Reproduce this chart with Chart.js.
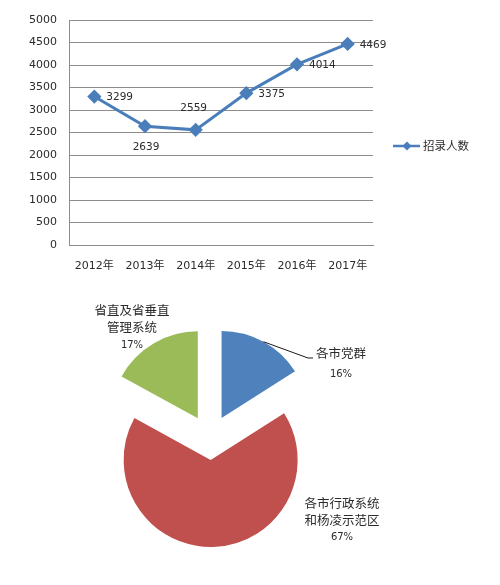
<!DOCTYPE html>
<html>
<head>
<meta charset="utf-8">
<script src="https://cdn.jsdelivr.net/npm/chart.js@4.4.1/dist/chart.umd.min.js"></script>
<style>
  html, body { margin: 0; padding: 0; background: #fff; }
  #wrap { position: relative; width: 500px; height: 585px; overflow: hidden; }
  #lineBox { position: absolute; left: 0; top: 0; width: 500px; height: 290px; }
  #pieBox { position: absolute; left: 0; top: 290px; width: 500px; height: 295px; }
</style>
</head>
<body>
<div id="wrap">
  <div id="lineBox"><canvas id="chartLine"></canvas></div>
  <div id="pieBox"><canvas id="chartPie"></canvas></div>
</div>
<script>
// data garis
const years = ['2012年', '2013年', '2014年', '2015年', '2016年', '2017年'];
const recruits = [3299, 2639, 2559, 3375, 4014, 4469];
const seriesName = '招录人数';
const yTicks = [0, 500, 1000, 1500, 2000, 2500, 3000, 3500, 4000, 4500, 5000];

// data pie
const groups = ['各市党群', '各市行政系统和杨凌示范区', '省直及省垂直管理系统'];
const shares = [16, 67, 17];

const NUM_FONT = '"DejaVu Sans", "Noto Sans CJK SC", sans-serif';
const CJK_FONT = '"Noto Sans CJK SC", "DejaVu Sans", sans-serif';
const BLUE = '#4A7EBB';
const INK = '#2b2b2b';

// posisi label angka: kanan / bawah / atas
const labelSide = ['right', 'below', 'above', 'right', 'right', 'right'];

const valueLabels = {
    id: 'valueLabels',
    afterDatasetsDraw(chart) {
        const ctx = chart.ctx;
        const meta = chart.getDatasetMeta(0);
        ctx.save();
        ctx.font = '10.5px ' + NUM_FONT;
        ctx.fillStyle = INK;
        ctx.textBaseline = 'middle';
        meta.data.forEach((pt, i) => {
            const txt = String(chart.data.datasets[0].data[i]);
            if (labelSide[i] === 'right') {
                ctx.textAlign = 'left';
                ctx.fillText(txt, pt.x + 12, pt.y + 1);
            } else if (labelSide[i] === 'below') {
                ctx.textAlign = 'center';
                ctx.fillText(txt, pt.x + 1, pt.y + 21);
            } else {
                ctx.textAlign = 'center';
                ctx.fillText(txt, pt.x - 2, pt.y - 22);
            }
        });
        ctx.restore();
    }
};

// legend manual di kanan
const sideLegend = {
    id: 'sideLegend',
    afterDraw(chart) {
        const ctx = chart.ctx;
        const ds = chart.data.datasets[0];
        const y = 146;
        ctx.save();
        ctx.strokeStyle = ds.borderColor;
        ctx.lineWidth = 2.5;
        ctx.beginPath();
        ctx.moveTo(393, y);
        ctx.lineTo(420, y);
        ctx.stroke();
        ctx.fillStyle = ds.borderColor;
        ctx.beginPath();
        ctx.moveTo(407, y - 4.5);
        ctx.lineTo(411.5, y);
        ctx.lineTo(407, y + 4.5);
        ctx.lineTo(402.5, y);
        ctx.closePath();
        ctx.fill();
        ctx.fillStyle = INK;
        ctx.font = '11.5px ' + CJK_FONT;
        ctx.textAlign = 'left';
        ctx.textBaseline = 'middle';
        ctx.fillText(ds.label, 423, y);
        ctx.restore();
    }
};

new Chart(document.getElementById('chartLine'), {
    type: 'line',
    data: {
        labels: years,
        datasets: [{
            label: seriesName,
            data: recruits,
            borderColor: BLUE,
            backgroundColor: BLUE,
            borderWidth: 3,
            pointStyle: 'rectRot',
            pointRadius: 5,
            pointBackgroundColor: BLUE,
            pointBorderColor: BLUE,
            tension: 0
        }]
    },
    options: {
        responsive: true,
        maintainAspectRatio: false,
        animation: false,
        events: [],
        layout: { padding: { left: 0, top: 20, right: 127, bottom: 0 } },
        plugins: { legend: { display: false }, tooltip: { enabled: false } },
        scales: {
            x: {
                offset: true,
                grid: { display: false, drawTicks: false },
                border: { display: true, color: '#8c8c8c', width: 1 },
                ticks: { padding: 15, color: INK, font: { family: NUM_FONT, size: 11 }, maxRotation: 0 },
                afterFit(axis) { axis.height = 45; }
            },
            y: {
                min: 0,
                max: 5000,
                afterBuildTicks(axis) { axis.ticks = yTicks.map(v => ({ value: v })); },
                grid: { color: '#8c8c8c', lineWidth: 1, drawTicks: false },
                border: { display: true, color: '#8c8c8c', width: 1 },
                ticks: {
                    padding: 12,
                    color: INK,
                    font: { family: NUM_FONT, size: 11 },
                    callback: (v) => String(v)
                },
                afterFit(axis) { axis.width = 69; }
            }
        }
    },
    plugins: [valueLabels, sideLegend]
});

// jarak "explode" tiap irisan (px), urut sama dengan groups
const explodePx = [24, 21, 24];

// gambar ulang tiap arc dengan pergeseran keluar, radius tetap sama
const explodeSlices = {
    id: 'explodeSlices',
    beforeDatasetDraw(chart, args) {
        const ctx = chart.ctx;
        args.meta.data.forEach((arc, i) => {
            const mid = (arc.startAngle + arc.endAngle) / 2;
            ctx.save();
            ctx.translate(Math.cos(mid) * explodePx[i], Math.sin(mid) * explodePx[i]);
            arc.draw(ctx, chart.chartArea);
            ctx.restore();
        });
        return false;
    }
};

// label pie: baris teks + posisi persen (relatif kanvas pie)
const pieLabelLines = [
    { lines: ['各市党群'], x: 341, y: 63, pctDy: 21, leader: true },
    { lines: ['各市行政系统', '和杨凌示范区'], x: 342, y: 213, pctDy: 34 },
    { lines: ['省直及省垂直', '管理系统'], x: 132, y: 20, pctDy: 35 }
];

const pieLabels = {
    id: 'pieLabels',
    afterDatasetsDraw(chart) {
        const ctx = chart.ctx;
        const meta = chart.getDatasetMeta(0);
        const vals = chart.data.datasets[0].data;
        const total = vals.reduce((a, b) => a + b, 0);
        ctx.save();
        ctx.textAlign = 'center';
        ctx.textBaseline = 'middle';
        pieLabelLines.forEach((lab, i) => {
            ctx.fillStyle = INK;
            ctx.font = '12.5px ' + CJK_FONT;
            lab.lines.forEach((t, k) => ctx.fillText(t, lab.x, lab.y + k * 17.5));
            ctx.font = '10px ' + NUM_FONT;
            ctx.fillText(Math.round(vals[i] / total * 100) + '%', lab.x, lab.y + lab.pctDy);
            if (lab.leader) {
                const arc = meta.data[i];
                const mid = (arc.startAngle + arc.endAngle) / 2;
                const r = arc.outerRadius + explodePx[i];
                const sx = arc.x + Math.cos(mid) * r;
                const sy = arc.y + Math.sin(mid) * r;
                ctx.strokeStyle = '#1a1a1a';
                ctx.lineWidth = 1;
                ctx.beginPath();
                ctx.moveTo(sx, sy);
                ctx.lineTo(308, 68);
                ctx.lineTo(313, 68);
                ctx.stroke();
            }
        });
        ctx.restore();
    }
};

new Chart(document.getElementById('chartPie'), {
    type: 'pie',
    data: {
        labels: groups,
        datasets: [{
            data: shares,
            backgroundColor: ['#4F81BD', '#C0504D', '#9BBB59'],
            borderWidth: 0
        }]
    },
    options: {
        responsive: true,
        maintainAspectRatio: false,
        animation: false,
        events: [],
        layout: { padding: { left: 123, right: 203, top: 62, bottom: 59 } },
        plugins: { legend: { display: false }, tooltip: { enabled: false } }
    },
    plugins: [explodeSlices, pieLabels]
});
</script>
</body>
</html>
